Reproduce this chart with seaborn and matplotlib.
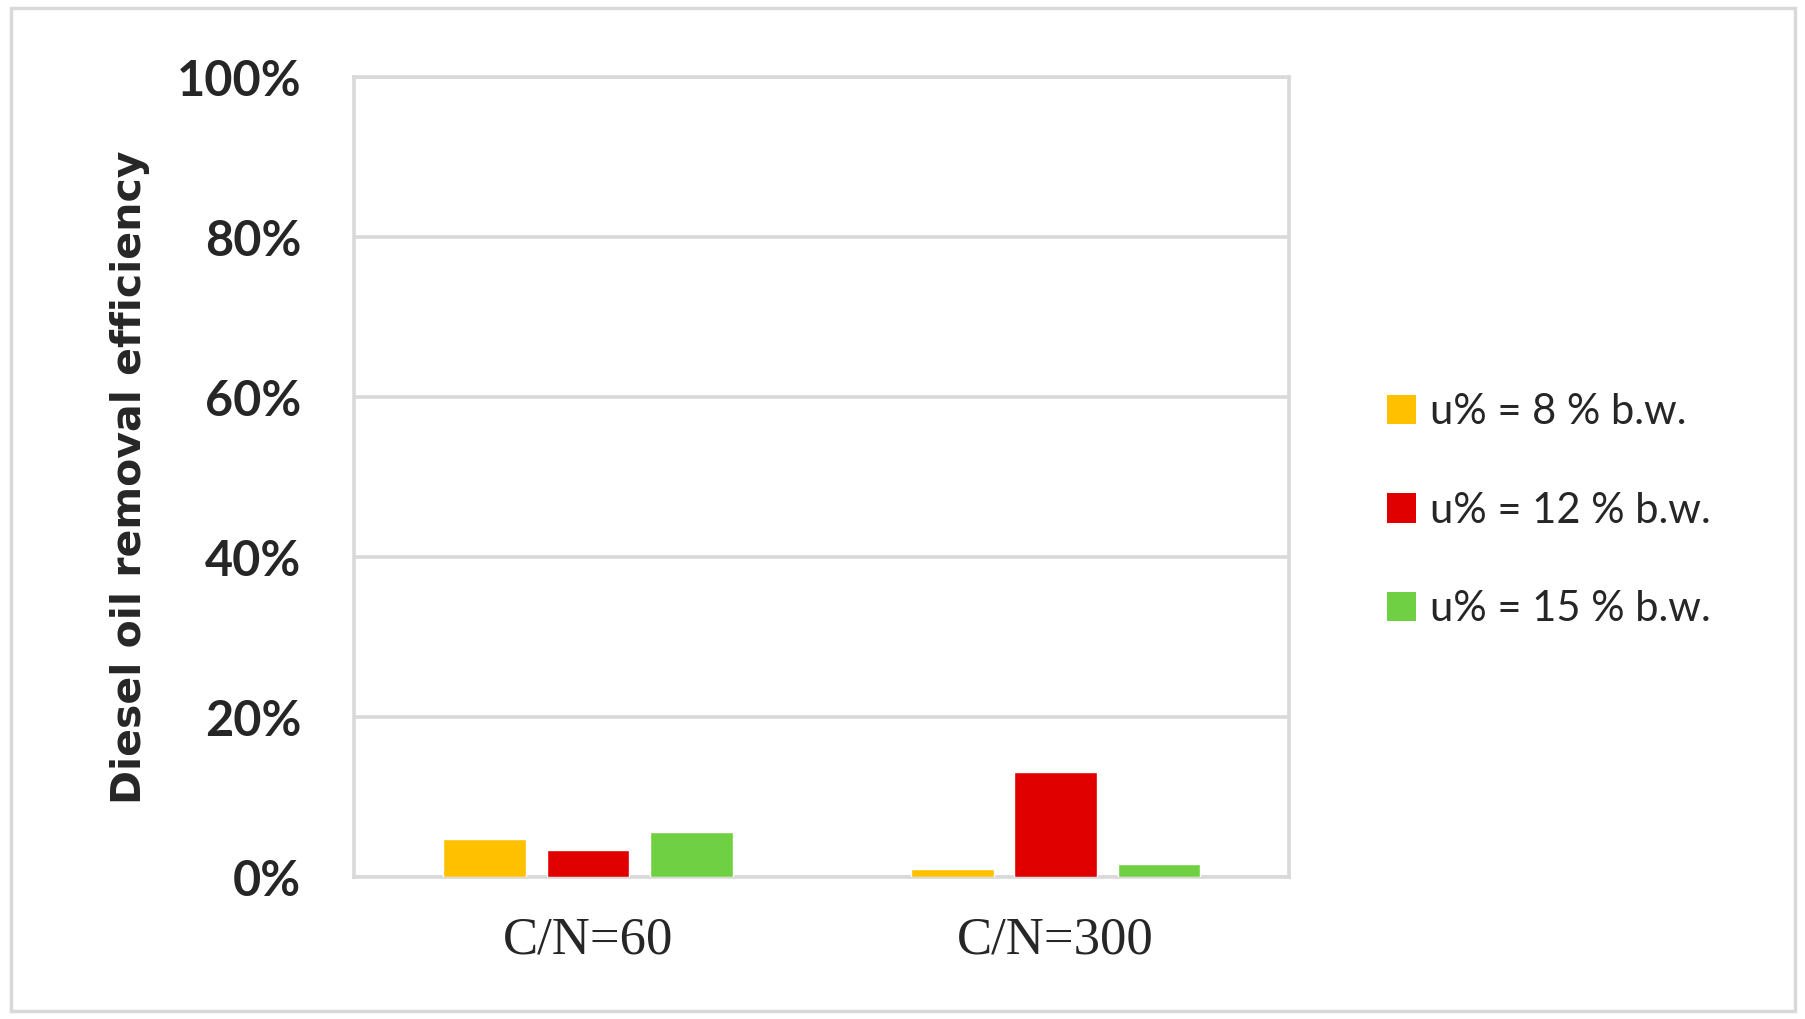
import matplotlib
matplotlib.use("Agg")
import matplotlib.pyplot as plt
from matplotlib.patches import Patch, Rectangle
from matplotlib.ticker import PercentFormatter
import seaborn as sns
import pandas as pd

# ── Data ───────────────────────────────────────────────────────────────────
categories = ["C/N=60", "C/N=300"]
series     = ["u% = 8 % b.w.", "u% = 12 % b.w.", "u% = 15 % b.w."]
u8         = [4.8, 1.0]
u12        = [3.4, 13.2]
u15        = [5.7, 1.7]
colors     = ["#FFC000", "#E00000", "#70D044"]
yticks     = [0, 20, 40, 60, 80, 100]

df = pd.DataFrame({
    "cat":   categories * 3,
    "ser":   [series[0]] * 2 + [series[1]] * 2 + [series[2]] * 2,
    "value": u8 + u12 + u15,
})

sns.set_theme(style="white")
grid_col = "#D9D9D9"

fig = plt.figure(figsize=(18.06, 10.19), dpi=100)
ax = fig.add_axes([0.196, 0.139, 0.518, 0.785])

sns.barplot(data=df, x="cat", y="value", hue="ser", order=categories,
            hue_order=series, palette=colors, width=0.663, gap=0.2,
            saturation=1, legend=False, ax=ax, zorder=3)

ax.set_ylim(0, 100)
ax.set_xlim(-0.5, 1.5)
ax.set_yticks(yticks)
ax.yaxis.set_major_formatter(PercentFormatter(decimals=0))
ax.grid(axis="y", color=grid_col, linewidth=2.6, zorder=0)
ax.set_axisbelow(True)
for s in ax.spines.values():
    s.set_color(grid_col)
    s.set_linewidth(2.6)
    s.set_visible(True)

ax.tick_params(axis="both", length=0)
ax.tick_params(axis="y", pad=38)
ax.tick_params(axis="x", pad=28)
for lbl in ax.get_yticklabels():
    lbl.set_fontfamily("Lato")
    lbl.set_fontweight("bold")
    lbl.set_fontsize(35)
for lbl in ax.get_xticklabels():
    lbl.set_fontfamily("Liberation Serif")
    lbl.set_fontsize(38)

ax.set_xlabel("")
ax.set_ylabel("Diesel oil removal efficiency", fontsize=29.5, fontweight="bold",
              fontfamily="DejaVu Sans", labelpad=19)

handles = [Patch(facecolor=c, edgecolor="none") for c in colors]
fig.legend(handles, series, loc="center left", bbox_to_anchor=(0.747, 0.499),
           frameon=False, prop={"family": "Lato", "size": 30},
           handlelength=0.7, handleheight=0.7, handletextpad=0.35,
           labelspacing=1.45)

# outer frame around the whole chart
fig.patches.append(Rectangle((0.006, 0.008), 0.988, 0.984, transform=fig.transFigure,
                             fill=False, edgecolor=grid_col, linewidth=2.5))

fig.savefig("out.png", dpi=100)
